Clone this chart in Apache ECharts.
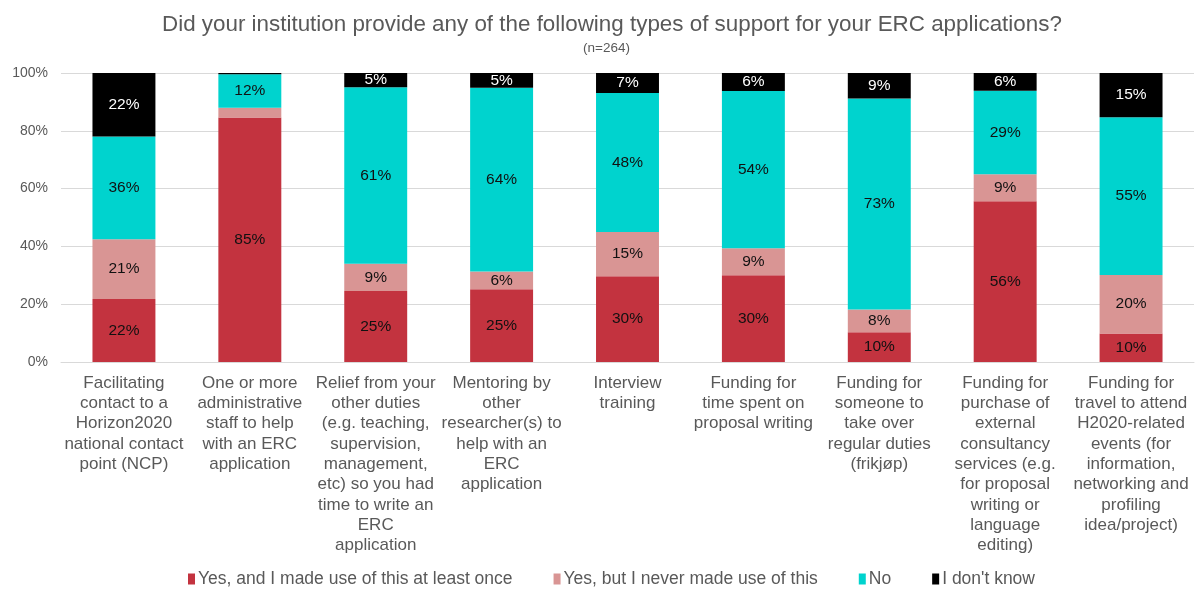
<!DOCTYPE html>
<html>
<head>
<meta charset="utf-8">
<script src="https://cdn.jsdelivr.net/npm/echarts@6/dist/echarts.min.js"></script>
<style>
  html, body { margin: 0; padding: 0; background: #ffffff; }
  #chart { width: 1197px; height: 590px; }
</style>
</head>
<body>
<div id="chart"></div>
<script>
// Support types (x-axis categories, pre-wrapped)
const categories = [
  "Facilitating\ncontact to a\nHorizon2020\nnational contact\npoint (NCP)",
  "One or more\nadministrative\nstaff to help\nwith an ERC\napplication",
  "Relief from your\nother duties\n(e.g. teaching,\nsupervision,\nmanagement,\netc) so you had\ntime to write an\nERC\napplication",
  "Mentoring by\nother\nresearcher(s) to\nhelp with an\nERC\napplication",
  "Interview\ntraining",
  "Funding for\ntime spent on\nproposal writing",
  "Funding for\nsomeone to\ntake over\nregular duties\n(frikjøp)",
  "Funding for\npurchase of\nexternal\nconsultancy\nservices (e.g.\nfor proposal\nwriting or\nlanguage\nediting)",
  "Funding for\ntravel to attend\nH2020-related\nevents (for\ninformation,\nnetworking and\nprofiling\nidea/project)"
];

// Share of respondents (%) per answer
const usedIt     = [21.8, 84.6, 24.6, 25.2, 29.7, 30.0, 10.3, 55.6,  9.9];
const neverUsed  = [20.7,  3.4,  9.4,  6.1, 15.3,  9.4,  7.9,  9.4, 20.2];
const noSupport  = [35.5, 11.6, 61.1, 63.6, 48.1, 54.4, 73.0, 28.9, 54.6];
const dontKnow   = [22.0,  0.4,  4.9,  5.1,  6.9,  6.2,  8.8,  6.1, 15.3];

const seriesNames = [
  "Yes, and I made use of this at least once",
  "Yes, but I never made use of this",
  "No",
  "I don't know"
];

const yTicks = [0, 20, 40, 60, 80, 100];

const textGray = "#595959";
const font = "Liberation Sans, Arial, sans-serif";

function makeSeries(name, data, color, labelColor) {
  return {
    name: name,
    type: "bar",
    stack: "total",
    barWidth: "50%",
    data: data,
    itemStyle: { color: color },
    label: {
      show: true,
      position: "inside",
      color: labelColor,
      fontFamily: font,
      fontSize: 15.5,
      formatter: p => (p.value < 4 ? "" : Math.round(p.value) + "%")
    },
    emphasis: { disabled: true }
  };
}

const chart = echarts.init(document.getElementById("chart"), null, { renderer: "canvas" });

chart.setOption({
  animation: false,
  backgroundColor: "#ffffff",
  textStyle: { fontFamily: font },
  title: [
    {
      text: "Did your institution provide any of the following types of support for your ERC applications?",
      left: 157,
      top: 9,
      textStyle: { color: textGray, fontSize: 22.4, fontWeight: "normal", fontFamily: font }
    },
    {
      text: "(n=264)",
      left: 578,
      top: 36,
      textStyle: { color: textGray, fontSize: 13.5, fontWeight: "normal", fontFamily: font }
    }
  ],
  legend: {
    top: 565,
    left: 183,
    itemWidth: 7,
    itemHeight: 11,
    itemGap: 41,
    icon: "rect",
    data: seriesNames,
    textStyle: { color: textGray, fontSize: 17.5, fontFamily: font, padding: [0, 0, 0, -2] }
  },
  grid: { left: 61, right: 3, top: 73, bottom: 228, containLabel: false },
  xAxis: {
    type: "category",
    data: categories,
    axisLine: { show: true, lineStyle: { color: "#d9d9d9", width: 1 } },
    axisTick: { show: false },
    axisLabel: {
      interval: 0,
      color: textGray,
      fontSize: 17,
      lineHeight: 20.3,
      margin: 11,
      fontFamily: font
    }
  },
  yAxis: {
    type: "value",
    min: yTicks[0],
    max: yTicks[yTicks.length - 1],
    interval: 20,
    axisLine: { show: false },
    axisTick: { show: false },
    splitLine: { lineStyle: { color: "#d9d9d9", width: 1 } },
    axisLabel: {
      color: textGray,
      fontSize: 14,
      margin: 13,
      fontFamily: font,
      formatter: v => v + "%"
    }
  },
  series: [
    makeSeries(seriesNames[0], usedIt, "#C3333F", "#111111"),
    makeSeries(seriesNames[1], neverUsed, "#D99594", "#111111"),
    makeSeries(seriesNames[2], noSupport, "#00D3CE", "#111111"),
    makeSeries(seriesNames[3], dontKnow, "#000000", "#ffffff")
  ]
});
</script>
</body>
</html>
